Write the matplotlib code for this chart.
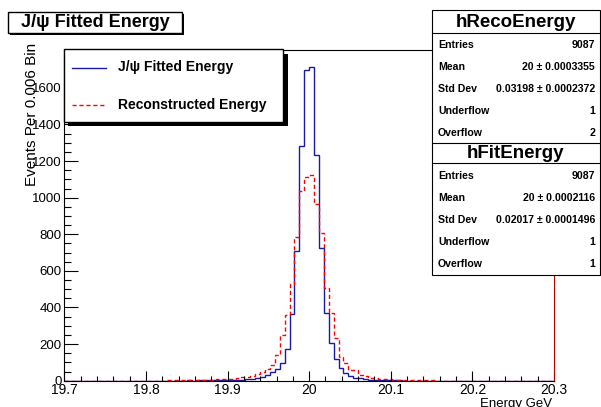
import matplotlib
matplotlib.use("Agg")
import matplotlib.pyplot as plt
from matplotlib.patches import Rectangle
from matplotlib.ticker import FixedLocator, MultipleLocator
import numpy as np

plt.rcParams['font.family'] = ['Liberation Sans', 'DejaVu Sans']

# histogram definition: 100 bins of 0.006 GeV from 19.7 to 20.3
x_lo, x_hi, n_bins = 19.7, 20.3, 100

# J/psi fitted energy (hFitEnergy), counts per bin
fit_counts = [0, 0, 0, 0, 0, 0, 0, 0, 0, 0,
              0, 0, 0, 0, 1, 0, 0, 0, 0, 1,
              1, 0, 1, 1, 1, 2, 1, 2, 2, 2,
              2, 3, 3, 3, 4, 5, 6, 8, 10, 15,
              22, 32, 48, 66, 95, 175, 364, 710, 1284, 1698,
              1716, 1233, 723, 370, 208, 117, 71, 40, 27, 16,
              16, 9, 6, 5, 4, 3, 2, 2, 2, 1,
              1, 1, 1, 0, 1, 0, 0, 1, 0, 0,
              0, 0, 0, 0, 0, 0, 0, 0, 0, 0,
              0, 0, 0, 0, 0, 0, 0, 0, 0, 0]

# reconstructed energy (hRecoEnergy), counts per bin
reco_counts = [0, 0, 0, 0, 0, 0, 0, 0, 0, 0,
               0, 0, 1, 0, 1, 1, 1, 1, 1, 1,
               1, 2, 2, 2, 2, 3, 3, 4, 4, 5,
               6, 7, 8, 10, 12, 15, 18, 22, 27, 35,
               45, 62, 85, 140, 250, 359, 527, 784, 1035, 1115,
               1122, 966, 809, 505, 368, 232, 131, 95, 57, 57,
               31, 28, 15, 14, 10, 8, 7, 6, 5, 4,
               4, 3, 3, 2, 2, 2, 1, 1, 1, 1,
               1, 1, 0, 1, 0, 0, 1, 0, 0, 0,
               0, 0, 0, 0, 0, 0, 0, 0, 0, 1]

x_ticks = [19.7, 19.8, 19.9, 20.0, 20.1, 20.2, 20.3]
x_tick_labels = ["19.7", "19.8", "19.9", "20", "20.1", "20.2", "20.3"]
y_ticks = [0, 200, 400, 600, 800, 1000, 1200, 1400, 1600]

reco_stats = [("Entries", "9087"), ("Mean", "20 \u00b1 0.0003355"),
              ("Std Dev", "0.03198 \u00b1 0.0002372"),
              ("Underflow", "1"), ("Overflow", "2")]
fit_stats = [("Entries", "9087"), ("Mean", "20 \u00b1 0.0002116"),
             ("Std Dev", "0.02017 \u00b1 0.0001496"),
             ("Underflow", "1"), ("Overflow", "1")]

W, H = 601, 407


def fx(px):
    return px / W


def fy(py):
    return 1 - py / H


def box(fig, x0, y0, x1, y1, shadow=0, lw=0.8, ec='black'):
    # rectangle given in pixel coords (top-left origin), with ROOT style shadow
    if shadow:
        fig.add_artist(Rectangle((fx(x0 + shadow), fy(y1 + shadow)),
                                 fx(x1 - x0), (y1 - y0) / H,
                                 transform=fig.transFigure, fc='black',
                                 ec='none', zorder=4))
    fig.add_artist(Rectangle((fx(x0), fy(y1)), fx(x1 - x0), (y1 - y0) / H,
                             transform=fig.transFigure, fc='white', ec=ec,
                             lw=lw, zorder=4))


fig = plt.figure(figsize=(6.01, 4.07), dpi=100)
ax = fig.add_axes([fx(64.3), fy(380.7), fx(554 - 64.3), (380.7 - 50) / H])

edges = np.linspace(x_lo, x_hi, n_bins + 1)
ax.stairs(fit_counts, edges, color='#1a1aa8', lw=1.0, baseline=0)
ax.stairs(reco_counts, edges, color='#ff0000', lw=1.0, ls=(0, (3, 2)),
          baseline=0)

ax.set_xlim(x_lo, x_hi)
ax.set_ylim(0, 1807)
ax.xaxis.set_major_locator(FixedLocator(x_ticks))
ax.set_xticklabels(x_tick_labels)
ax.xaxis.set_minor_locator(MultipleLocator(0.02))
ax.yaxis.set_major_locator(FixedLocator(y_ticks))
ax.yaxis.set_minor_locator(MultipleLocator(50))
ax.tick_params(axis='x', which='major', direction='in', length=7, width=0.8,
               labelsize=10, pad=2)
ax.tick_params(axis='x', which='minor', direction='in', length=3.5, width=0.8)
ax.tick_params(axis='y', which='major', direction='in', length=10, width=0.8,
               labelsize=9.5, pad=2)
ax.tick_params(axis='y', which='minor', direction='in', length=5, width=0.8)
for s in ax.spines.values():
    s.set_linewidth(0.8)
ax.spines['right'].set_color('#b00000')

fig.text(fx(32), fy(43), "Events Per 0.006 Bin", rotation=90, ha='center',
         va='top', fontsize=11)
fig.text(fx(552), fy(398), "Energy GeV", ha='right', va='top', fontsize=9.5)

# title box
box(fig, 8.3, 11.7, 181.7, 33.3, shadow=2, lw=1.0)
fig.text(fx(95), fy(22.5), "J/\u03c8 Fitted Energy", ha='center', va='center',
         fontsize=13, fontweight='bold', zorder=5)

# legend
box(fig, 63.8, 49.3, 283.3, 121.7, shadow=4.5, lw=1.0)
fig.add_artist(plt.Line2D([fx(72), fx(106)], [fy(67.5), fy(67.5)],
                          transform=fig.transFigure, color='#1a1aa8', lw=1.0,
                          zorder=5))
fig.add_artist(plt.Line2D([fx(72), fx(106)], [fy(104.5), fy(104.5)],
                          transform=fig.transFigure, color='#ff0000', lw=1.0,
                          ls=(0, (3, 2)), zorder=5))
fig.text(fx(118), fy(67.5), "J/\u03c8 Fitted Energy", ha='left', va='center',
         fontsize=10, fontweight='bold', zorder=5)
fig.text(fx(118), fy(104.5), "Reconstructed Energy", ha='left', va='center',
         fontsize=10, fontweight='bold', zorder=5)


def stats_box(top, bottom, line_y, name, rows, row_y0):
    box(fig, 431.5, top, 599.5, bottom, shadow=1, lw=0.8)
    fig.add_artist(plt.Line2D([fx(431.5), fx(599.5)], [fy(line_y), fy(line_y)],
                              transform=fig.transFigure, color='black',
                              lw=0.8, zorder=5))
    fig.text(fx(516), fy((top + line_y) / 2 + 0.5), name, ha='center',
             va='center', fontsize=13.5, fontweight='bold', zorder=5)
    for i, (lab, val) in enumerate(rows):
        y = row_y0 + 22 * i
        fig.text(fx(438), fy(y), lab, ha='left', va='center', fontsize=7.6,
                 fontweight='bold', zorder=5)
        fig.text(fx(595), fy(y), val, ha='right', va='center', fontsize=7.6,
                 fontweight='bold', zorder=5)


stats_box(10, 144, 33.3, "hRecoEnergy", reco_stats, 45.5)
stats_box(143, 275, 163, "hFitEnergy", fit_stats, 176)

fig.savefig("out.png", dpi=100)
